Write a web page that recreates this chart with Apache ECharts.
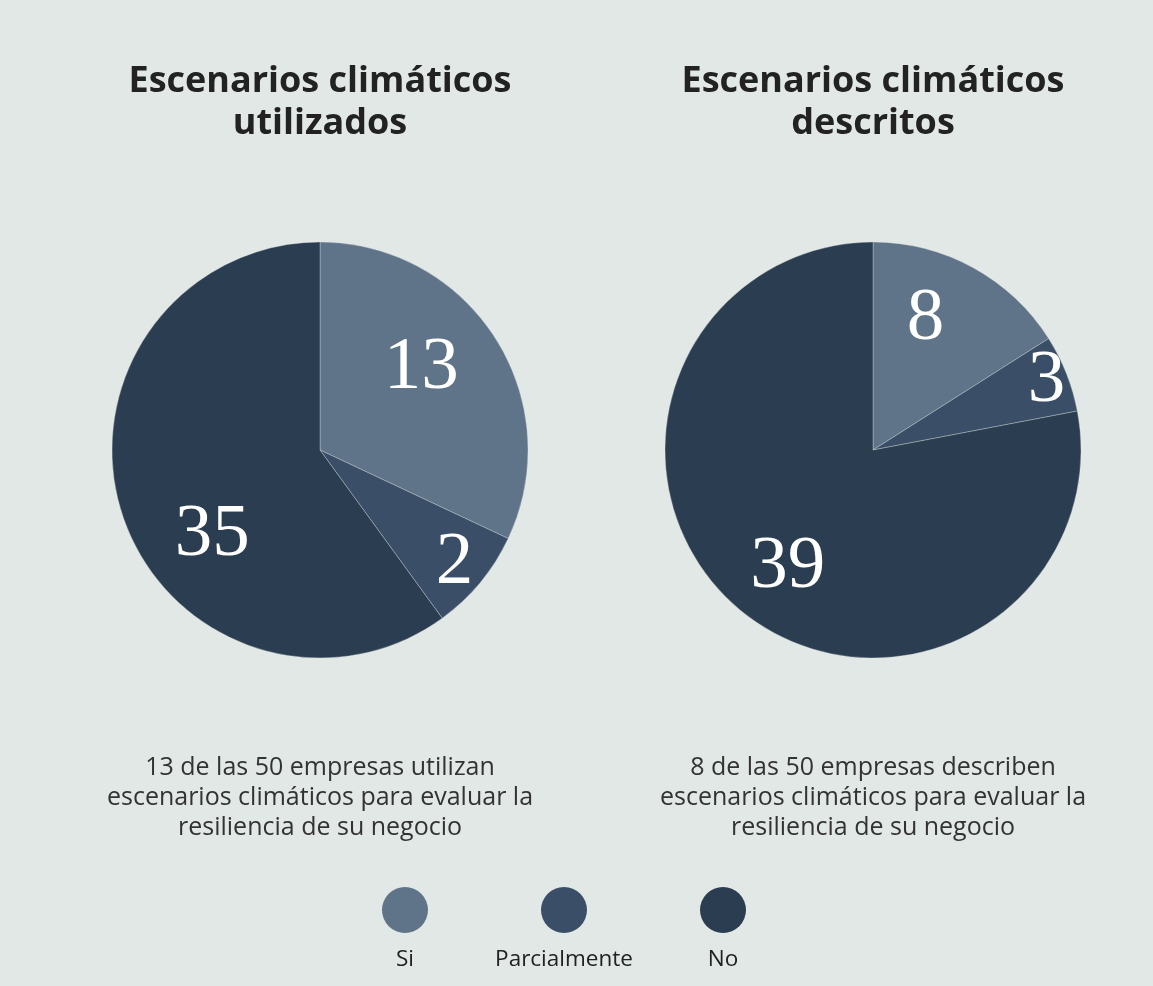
<!DOCTYPE html>
<html>
<head>
<meta charset="utf-8">
<script src="https://cdn.jsdelivr.net/npm/echarts@6/dist/echarts.min.js"></script>
<style>
html,body{margin:0;padding:0;background:#e2e8e6;}
#chart{width:1153px;height:986px;}
</style>
</head>
<body>
<div id="chart"></div>
<script>
// ---- data ----
const categories = ['Si', 'Parcialmente', 'No'];
const colors = ['#5f7389', '#3a4f67', '#2b3d50'];

const leftTitle = 'Escenarios climáticos\nutilizados';
const rightTitle = 'Escenarios climáticos\ndescritos';
const leftNote = '13 de las 50 empresas utilizan\nescenarios climáticos para evaluar la\nresiliencia de su negocio';
const rightNote = '8 de las 50 empresas describen\nescenarios climáticos para evaluar la\nresiliencia de su negocio';

// values printed on the slices
const leftLabels = [13, 2, 35];
const rightLabels = [8, 3, 39];
// slice sizes as drawn in the picture (left pie's angles are 32% / 8% / 60%)
const leftSlices = [16, 4, 30];
const rightSlices = [8, 3, 39];

// label nudges from the default inside position
const leftLabelShift = [[11, -24], [52, 45], [-6, 52]];
const rightLabelShift = [[1, -37], [74, -29], [-17, 35]];

function pieSeries(center, slices, labels, shifts) {
  return {
    type: 'pie',
    center: center,
    radius: 208,
    startAngle: 90,
    clockwise: true,
    silent: true,
    itemStyle: { borderColor: 'rgba(226,232,230,0.55)', borderWidth: 0.6 },
    label: {
      show: true,
      position: 'inside',
      color: '#ffffff',
      fontFamily: '"Liberation Serif", "DejaVu Serif", serif',
      fontSize: 75,
      formatter: p => String(labels[p.dataIndex])
    },
    labelLine: { show: false },
    labelLayout: p => ({ dx: shifts[p.dataIndex][0], dy: shifts[p.dataIndex][1] }),
    data: categories.map((c, i) => ({ name: c, value: slices[i], itemStyle: { color: colors[i] } }))
  };
}

const legendX = [405, 564, 723];
const legendGraphics = [];
categories.forEach((c, i) => {
  legendGraphics.push({
    type: 'circle', shape: { cx: legendX[i], cy: 910, r: 23 },
    style: { fill: colors[i] }
  });
  legendGraphics.push({
    type: 'text', x: legendX[i], y: 960,
    style: {
      text: c, fill: '#222', font: '22.5px "Open Sans", Lato, sans-serif',
      textAlign: 'center', textVerticalAlign: 'middle'
    }
  });
});

const titleFont = { fontFamily: '"Open Sans", Lato, sans-serif', fontWeight: 'bold', fontSize: 36, lineHeight: 42, color: '#222222' };
const noteFont = { fontFamily: '"Open Sans", Lato, sans-serif', fontWeight: 'normal', fontSize: 25, lineHeight: 30, color: '#333333' };

const chart = echarts.init(document.getElementById('chart'), null, { renderer: 'canvas' });
chart.setOption({
  backgroundColor: '#e2e8e6',
  animation: false,
  title: [
    { text: leftTitle, left: 320, top: 61, textAlign: 'center', padding: 0, textStyle: titleFont },
    { text: rightTitle, left: 873, top: 61, textAlign: 'center', padding: 0, textStyle: titleFont },
    { text: leftNote, left: 320, top: 753, textAlign: 'center', padding: 0, textStyle: noteFont },
    { text: rightNote, left: 873, top: 753, textAlign: 'center', padding: 0, textStyle: noteFont }
  ],
  series: [
    pieSeries([320, 450], leftSlices, leftLabels, leftLabelShift),
    pieSeries([873, 450], rightSlices, rightLabels, rightLabelShift)
  ],
  graphic: legendGraphics
});
</script>
</body>
</html>
